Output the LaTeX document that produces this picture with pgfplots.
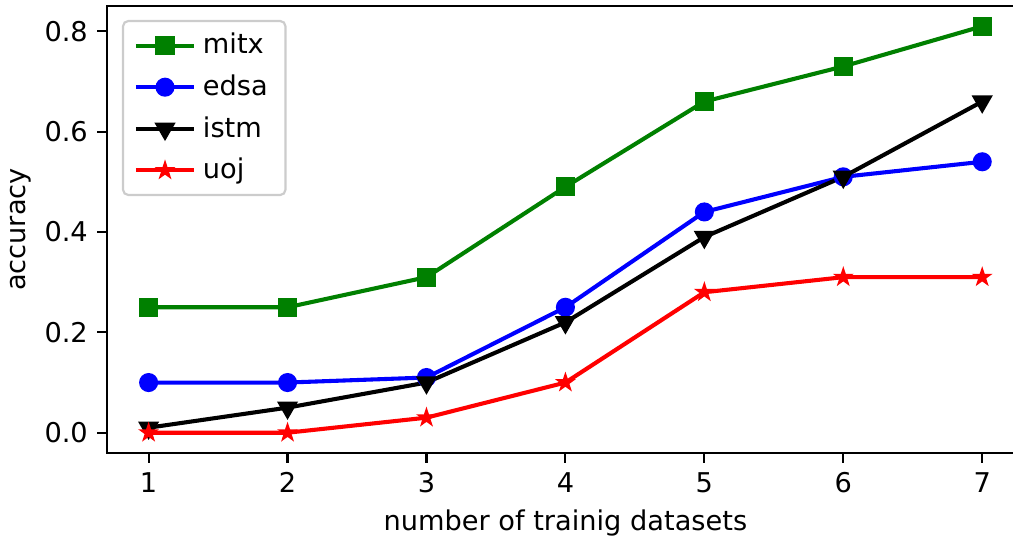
\documentclass[border=0pt]{standalone}
\usepackage{fontspec}
\setmainfont{DejaVu Sans}
\usepackage{pgfplots}
\pgfplotsset{compat=1.18}
\usetikzlibrary{plotmarks}
\definecolor{mgreen}{rgb}{0,0.5,0}
\definecolor{legframe}{gray}{0.8}
\pgfdeclareplotmark{fstar}{%
  \pgfpathmoveto{\pgfpointpolar{90}{\pgfplotmarksize}}%
  \pgfpathlineto{\pgfpointpolar{126}{0.382\pgfplotmarksize}}%
  \pgfpathlineto{\pgfpointpolar{162}{\pgfplotmarksize}}%
  \pgfpathlineto{\pgfpointpolar{198}{0.382\pgfplotmarksize}}%
  \pgfpathlineto{\pgfpointpolar{234}{\pgfplotmarksize}}%
  \pgfpathlineto{\pgfpointpolar{270}{0.382\pgfplotmarksize}}%
  \pgfpathlineto{\pgfpointpolar{306}{\pgfplotmarksize}}%
  \pgfpathlineto{\pgfpointpolar{342}{0.382\pgfplotmarksize}}%
  \pgfpathlineto{\pgfpointpolar{18}{\pgfplotmarksize}}%
  \pgfpathlineto{\pgfpointpolar{54}{0.382\pgfplotmarksize}}%
  \pgfpathclose
  \pgfusepathqfillstroke
}
\begin{document}
\begin{tikzpicture}
\begin{axis}[
  scale only axis,
  width=337pt, height=164.3pt,
  xmin=0.7, xmax=7.3,
  ymin=-0.0405, ymax=0.8505,
  xtick={1,2,3,4,5,6,7},
  ytick={0,0.2,0.4,0.6,0.8},
  /pgf/number format/assume math mode=true,
  yticklabel style={/pgf/number format/fixed,/pgf/number format/fixed zerofill,/pgf/number format/precision=1},
  tick align=outside,
  major tick length=3.5pt,
  tick style={line width=0.8pt, black},
  axis line style={line width=0.8pt},
  xtick pos=bottom, ytick pos=left,
  xlabel={number of trainig datasets},
  ylabel={accuracy},
  xlabel style={yshift=0.5pt},
  ylabel style={yshift=-2pt},
  clip=false,
  legend cell align=left,
  legend style={at={(0,1)}, anchor=north west, xshift=5.5pt, yshift=-5.1pt,
    draw=legframe, line width=0.8pt, rounded corners=2pt, fill=white,
    inner xsep=4pt, inner ysep=2pt, row sep=1.2pt,
    nodes={inner sep=2.5pt}},
  legend image code/.code={\draw[mark repeat=2,mark phase=2] plot coordinates {(0pt,0pt)(10.7pt,0pt)(21.4pt,0pt)};},
  every axis plot/.append style={line width=1.5pt},
]
\coordinate (R) at (axis cs:7.22,0);
\addplot[mgreen, mark=square*, mark size=3pt, mark options={line width=1pt, fill=mgreen}] coordinates {
  (1,0.25) (2,0.25) (3,0.31) (4,0.49) (5,0.66) (6,0.73) (7,0.81)};
\addlegendentry{mitx}
\addplot[blue, mark=*, mark size=3pt, mark options={line width=1pt, fill=blue}] coordinates {
  (1,0.10) (2,0.10) (3,0.11) (4,0.25) (5,0.44) (6,0.51) (7,0.54)};
\addlegendentry{edsa}
\addplot[black, mark=triangle*, mark size=3.5pt, mark options={line width=1pt, fill=black, rotate=180}] coordinates {
  (1,0.01) (2,0.05) (3,0.10) (4,0.22) (5,0.39) (6,0.51) (7,0.66)};
\addlegendentry{istm}
\addplot[red, mark=fstar, mark size=2.6pt, mark options={line width=0.9pt, fill=red}] coordinates {
  (1,0.00) (2,0.00) (3,0.03) (4,0.10) (5,0.28) (6,0.31) (7,0.31)};
\addlegendentry{uoj}
\end{axis}
\pgfresetboundingbox
\path[use as bounding box] ([xshift=-39.3pt,yshift=-32pt]current axis.south west) rectangle ([xshift=333pt,yshift=2.2pt]current axis.north west);
\end{tikzpicture}
\end{document}
